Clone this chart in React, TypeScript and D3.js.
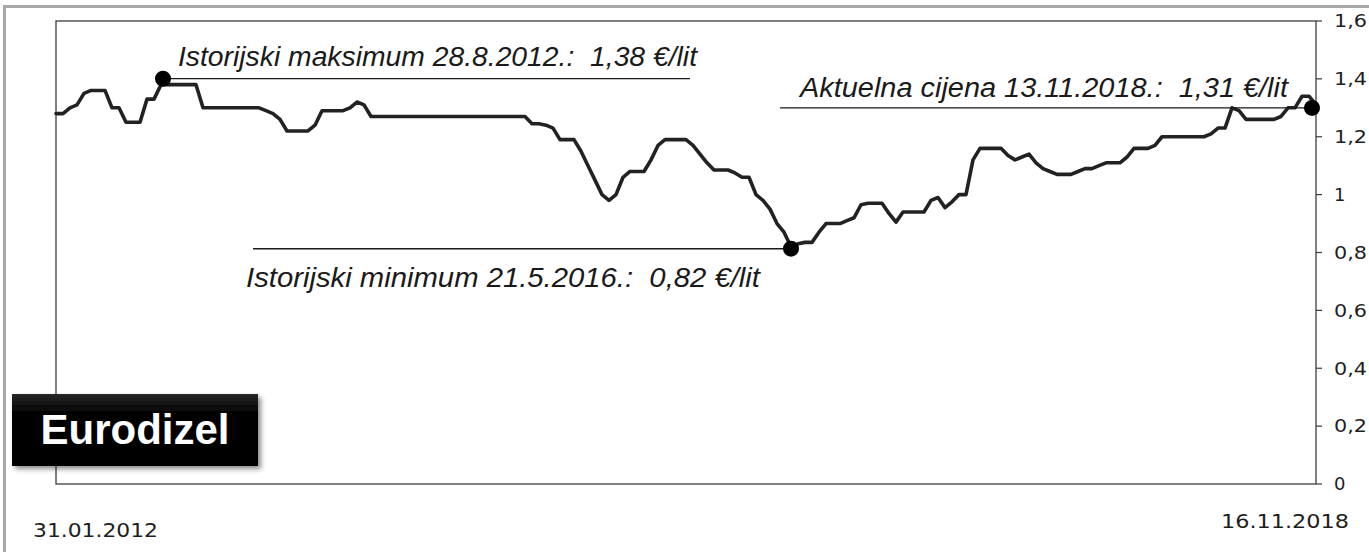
import React from 'react';
import * as d3 from 'd3';

// ---------- DATA ----------
// Eurodizel retail price (€/lit), equally spaced price periods from 31.01.2012 to 16.11.2018
const prices: number[] = [
  1.28, 1.28, 1.30, 1.31, 1.35, 1.36, 1.36, 1.36, 1.30, 1.30,
  1.25, 1.25, 1.25, 1.33, 1.33, 1.38, 1.38, 1.38, 1.38, 1.38,
  1.38, 1.30, 1.30, 1.30, 1.30, 1.30, 1.30, 1.30, 1.30, 1.30,
  1.29, 1.28, 1.26, 1.22, 1.22, 1.22, 1.22, 1.24, 1.29, 1.29,
  1.29, 1.29, 1.30, 1.32, 1.31, 1.27, 1.27, 1.27, 1.27, 1.27,
  1.27, 1.27, 1.27, 1.27, 1.27, 1.27, 1.27, 1.27, 1.27, 1.27,
  1.27, 1.27, 1.27, 1.27, 1.27, 1.27, 1.27, 1.27, 1.245, 1.245,
  1.24, 1.23, 1.19, 1.19, 1.19, 1.15, 1.10, 1.05, 1.00, 0.98,
  1.00, 1.06, 1.08, 1.08, 1.08, 1.12, 1.17, 1.19, 1.19, 1.19,
  1.19, 1.17, 1.14, 1.11, 1.085, 1.085, 1.085, 1.075, 1.06, 1.06,
  1.00, 0.98, 0.95, 0.90, 0.87, 0.82, 0.83, 0.835, 0.835, 0.87,
  0.90, 0.90, 0.90, 0.91, 0.92, 0.965, 0.97, 0.97, 0.97, 0.935,
  0.905, 0.94, 0.94, 0.94, 0.94, 0.98, 0.99, 0.955, 0.975, 1.00,
  1.00, 1.12, 1.16, 1.16, 1.16, 1.16, 1.135, 1.12, 1.13, 1.14,
  1.11, 1.09, 1.08, 1.07, 1.07, 1.07, 1.08, 1.09, 1.09, 1.10,
  1.11, 1.11, 1.11, 1.13, 1.16, 1.16, 1.16, 1.17, 1.20, 1.20,
  1.20, 1.20, 1.20, 1.20, 1.20, 1.21, 1.23, 1.23, 1.30, 1.29,
  1.26, 1.26, 1.26, 1.26, 1.26, 1.27, 1.30, 1.30, 1.34, 1.34,
  1.31,
];

const yTickValues: number[] = [0, 0.2, 0.4, 0.6, 0.8, 1, 1.2, 1.4, 1.6];
const dateLabels: string[] = ['31.01.2012', '16.11.2018'];
const seriesName = 'Eurodizel';

const annotationLabels: string[] = [
  'Istorijski maksimum 28.8.2012.:  1,38 €/lit',
  'Istorijski minimum 21.5.2016.:  0,82 €/lit',
  'Aktuelna cijena 13.11.2018.:  1,31 €/lit',
];
const annotationIndex: number[] = [15, 105, 180];

// ---------- LAYOUT / STYLE ----------
const W = 1369;
const H = 552;
const plot = { left: 56, right: 1316, top: 21, bottom: 484 };

const annLayout = [
  { textX: 178, baseline: 66, width: 519, lineOther: 690, dx: 2, dy: -6 },
  { textX: 246, baseline: 287, width: 514, lineOther: 253, dx: 0, dy: 2 },
  { textX: 800, baseline: 97, width: 488, lineOther: 780, dx: -4, dy: 3 },
];
const dateLayout = [
  { x: 33, baseline: 537, width: 125 },
  { x: 1221, baseline: 528, width: 128 },
];

const fmtTick = (t: number) => String(+t.toFixed(1)).replace('.', ',');

export default function App() {
  const x = d3.scaleLinear().domain([0, prices.length - 1]).range([plot.left, plot.right]);
  const y = d3.scaleLinear().domain([0, 1.6]).range([plot.bottom, plot.top]);
  const line = d3
    .line<number>()
    .x((_, i) => x(i))
    .y((d) => y(d));

  return (
    <svg
      width={W}
      height={H}
      style={{ position: 'absolute', left: 0, top: 0, background: '#fff' }}
    >
      <defs>
        <linearGradient id="boxGrad" x1="0" y1="0" x2="0" y2="1">
          <stop offset="0" stopColor="#262626" />
          <stop offset="0.25" stopColor="#050505" />
          <stop offset="1" stopColor="#000" />
        </linearGradient>
        <filter id="shadow" x="-10%" y="-20%" width="130%" height="150%">
          <feDropShadow dx="3" dy="3" stdDeviation="2.5" floodColor="#000" floodOpacity="0.45" />
        </filter>
      </defs>
      <rect x={0} y={0} width={W} height={H} fill="#fff" />

      {/* outer grey frame */}
      <path d={`M4.5,${H} V6.5 H${W}`} fill="none" stroke="#a8a8a8" strokeWidth={3} />

      {/* plot frame */}
      <rect
        x={plot.left}
        y={plot.top}
        width={plot.right - plot.left}
        height={plot.bottom - plot.top}
        fill="none"
        stroke="#3c3c3c"
        strokeWidth={1.3}
      />

      {/* right axis ticks + labels */}
      {yTickValues.map((t) => (
        <g key={t}>
          <line x1={plot.right} x2={plot.right + 6} y1={y(t)} y2={y(t)} stroke="#3c3c3c" strokeWidth={1.2} />
          <text
            x={1334}
            y={y(t)}
            dy="0.35em"
            fontFamily="'DejaVu Sans', Verdana, sans-serif"
            fontSize={18}
            fill="#1e1e1e"
            textLength={fmtTick(t).length > 1 ? 33 : undefined}
            lengthAdjust="spacingAndGlyphs"
          >
            {fmtTick(t)}
          </text>
        </g>
      ))}

      {/* price line */}
      <path
        d={line(prices) || ''}
        fill="none"
        stroke="#222"
        strokeWidth={3.6}
        strokeLinejoin="round"
        strokeLinecap="round"
      />

      {/* annotations */}
      {annotationLabels.map((label, k) => {
        const L = annLayout[k];
        const idx = annotationIndex[k];
        const cx = x(idx) + L.dx;
        const cy = y(prices[idx]) + L.dy;
        return (
          <g key={label}>
            <line
              x1={Math.min(cx, L.lineOther)}
              x2={Math.max(cx, L.lineOther)}
              y1={cy}
              y2={cy}
              stroke="#1a1a1a"
              strokeWidth={1.4}
            />
            <circle cx={cx} cy={cy} r={8} fill="#000" />
            <text
              x={L.textX}
              y={L.baseline}
              fontFamily="'Liberation Sans', Arial, sans-serif"
              fontStyle="italic"
              fontSize={27}
              fill="#1a1a1a"
              textLength={L.width}
              lengthAdjust="spacingAndGlyphs"
              style={{ whiteSpace: 'pre' }}
            >
              {label}
            </text>
          </g>
        );
      })}

      {/* series label box */}
      <rect x={12} y={394} width={246} height={72} fill="url(#boxGrad)" filter="url(#shadow)" />
      <text
        x={135}
        y={444}
        textAnchor="middle"
        fontFamily="'Liberation Sans', Arial, sans-serif"
        fontWeight="bold"
        fontSize={42}
        fill="#fff"
      >
        {seriesName}
      </text>

      {/* start / end dates */}
      {dateLabels.map((d, k) => (
        <text
          key={d}
          x={dateLayout[k].x}
          y={dateLayout[k].baseline}
          fontFamily="'DejaVu Sans', Verdana, sans-serif"
          fontSize={19}
          fill="#1e1e1e"
          textLength={dateLayout[k].width}
          lengthAdjust="spacingAndGlyphs"
        >
          {d}
        </text>
      ))}
    </svg>
  );
}
